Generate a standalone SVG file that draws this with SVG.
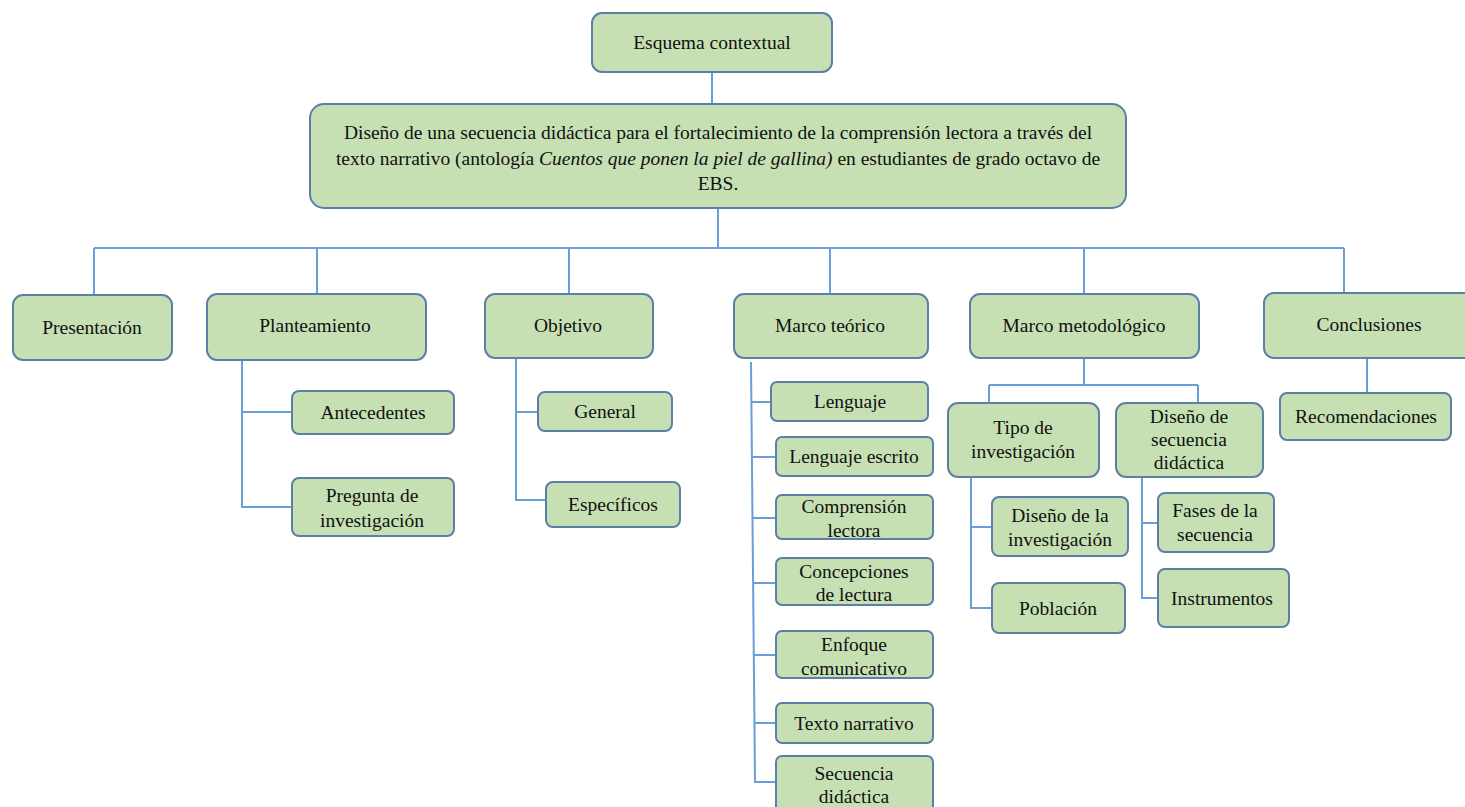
<svg xmlns="http://www.w3.org/2000/svg" width="1465" height="807" viewBox="0 0 1465 807">
<style>
.n{fill:#c6e0b4;stroke:#5b7fa6;stroke-width:2}
.t{font-family:'Liberation Serif','Times New Roman',serif;font-size:19.5px;fill:#111;text-anchor:middle}
.c{fill:none;stroke:#6a9ed6;stroke-width:2}
</style>
<rect width="1465" height="807" fill="#fff"/>
<g id="connectors">
<path class="c" d="M712 72V104"/>
<path class="c" d="M718 208V248M94 248H1344M94 248V295M317 248V294M569 248V294M830 248V294M1084 248V294M1344 248V293"/>
<path class="c" d="M242 360V507H292M242 412H292"/>
<path class="c" d="M516 358V500H546M516 412H538"/>
<path class="c" d="M751 362L755 782H776M751 402H771M752 457H776M752 518H776M753 583H776M753 655H776M754 723H776"/>
<path class="c" d="M1084 358V385M989 385H1198M989 385V403M1198 385V403"/>
<path class="c" d="M971 477V608H992M971 527H992"/>
<path class="c" d="M1142 477V598H1158M1142 523H1158"/>
<path class="c" d="M1367 358V393"/>
</g>
<g id="n-esquema"><rect class="n" x="592" y="13" width="240" height="59" rx="10"/><text class="t" x="712" y="49">Esquema contextual</text></g>
<g id="n-titulo"><rect class="n" x="310" y="104" width="816" height="104" rx="14"/>
<text class="t" x="718" y="139">Diseño de una secuencia didáctica para el fortalecimiento de la comprensión lectora a través del</text>
<text class="t" x="718" y="165">texto narrativo (antología <tspan font-style="italic">Cuentos que ponen la piel de gallina)</tspan> en estudiantes de grado octavo de</text>
<text class="t" x="718" y="190">EBS.</text></g>
<g id="n-presentacion"><rect class="n" x="13" y="295" width="159" height="65" rx="10"/><text class="t" x="92" y="334">Presentación</text></g>
<g id="n-planteamiento"><rect class="n" x="207" y="294" width="219" height="66" rx="10"/><text class="t" x="315" y="332">Planteamiento</text></g>
<g id="n-antecedentes"><rect class="n" x="292" y="391" width="162" height="43" rx="7"/><text class="t" x="373" y="419">Antecedentes</text></g>
<g id="n-pregunta"><rect class="n" x="292" y="478" width="162" height="58" rx="7"/><text class="t" x="372" y="502">Pregunta de</text><text class="t" x="372" y="527">investigación</text></g>
<g id="n-objetivo"><rect class="n" x="485" y="294" width="168" height="64" rx="10"/><text class="t" x="568" y="332">Objetivo</text></g>
<g id="n-general"><rect class="n" x="538" y="392" width="134" height="39" rx="7"/><text class="t" x="605" y="418">General</text></g>
<g id="n-especificos"><rect class="n" x="546" y="482" width="134" height="45" rx="7"/><text class="t" x="613" y="511">Específicos</text></g>
<g id="n-marcoteorico"><rect class="n" x="734" y="294" width="194" height="64" rx="10"/><text class="t" x="830" y="332">Marco teórico</text></g>
<g id="n-lenguaje"><rect class="n" x="771" y="382" width="157" height="39" rx="6"/><text class="t" x="850" y="408">Lenguaje</text></g>
<g id="n-lenguajeescrito"><rect class="n" x="776" y="437" width="157" height="39" rx="6"/><text class="t" x="854" y="463">Lenguaje escrito</text></g>
<g id="n-comprension"><rect class="n" x="776" y="495" width="157" height="44" rx="6"/><text class="t" x="854" y="513">Comprensión</text><text class="t" x="854" y="537">lectora</text></g>
<g id="n-concepciones"><rect class="n" x="776" y="558" width="157" height="47" rx="6"/><text class="t" x="854" y="578">Concepciones</text><text class="t" x="854" y="601">de lectura</text></g>
<g id="n-enfoque"><rect class="n" x="776" y="631" width="157" height="47" rx="6"/><text class="t" x="854" y="651">Enfoque</text><text class="t" x="854" y="675">comunicativo</text></g>
<g id="n-texto"><rect class="n" x="776" y="703" width="157" height="40" rx="6"/><text class="t" x="854" y="730">Texto narrativo</text></g>
<g id="n-secuencia"><rect class="n" x="776" y="756" width="157" height="60" rx="6"/><text class="t" x="854" y="780">Secuencia</text><text class="t" x="854" y="803">didáctica</text></g>
<g id="n-marcometodologico"><rect class="n" x="970" y="294" width="229" height="64" rx="10"/><text class="t" x="1084" y="332">Marco metodológico</text></g>
<g id="n-tipo"><rect class="n" x="948" y="403" width="151" height="74" rx="10"/><text class="t" x="1023" y="434">Tipo de</text><text class="t" x="1023" y="458">investigación</text></g>
<g id="n-disenosecuencia"><rect class="n" x="1116" y="403" width="147" height="74" rx="10"/><text class="t" x="1189" y="423">Diseño de</text><text class="t" x="1189" y="446">secuencia</text><text class="t" x="1189" y="469">didáctica</text></g>
<g id="n-disenoinv"><rect class="n" x="992" y="497" width="136" height="59" rx="7"/><text class="t" x="1060" y="522">Diseño de la</text><text class="t" x="1060" y="546">investigación</text></g>
<g id="n-poblacion"><rect class="n" x="992" y="583" width="133" height="50" rx="7"/><text class="t" x="1058" y="615">Población</text></g>
<g id="n-fases"><rect class="n" x="1158" y="493" width="116" height="59" rx="7"/><text class="t" x="1215" y="517">Fases de la</text><text class="t" x="1215" y="541">secuencia</text></g>
<g id="n-instrumentos"><rect class="n" x="1158" y="569" width="131" height="58" rx="7"/><text class="t" x="1222" y="605">Instrumentos</text></g>
<g id="n-conclusiones"><rect class="n" x="1264" y="293" width="215" height="65" rx="10"/><text class="t" x="1369" y="331">Conclusiones</text></g>
<g id="n-recomendaciones"><rect class="n" x="1280" y="393" width="171" height="47" rx="7"/><text class="t" x="1366" y="423">Recomendaciones</text></g>
</svg>
